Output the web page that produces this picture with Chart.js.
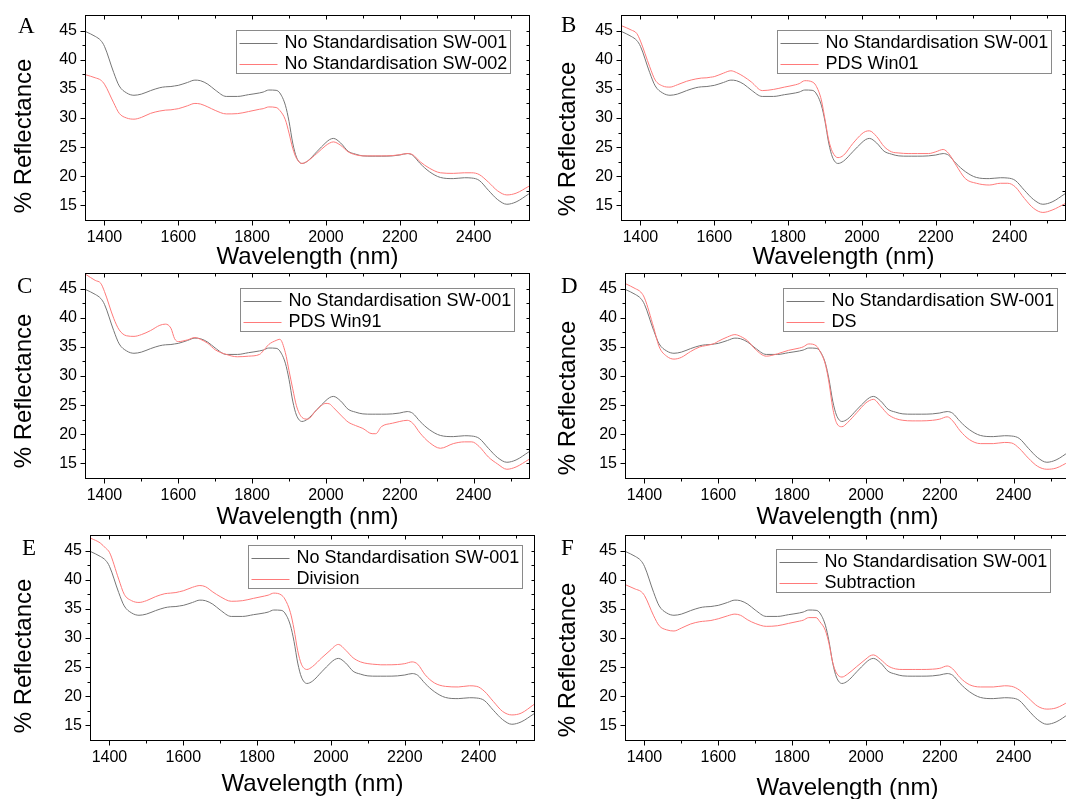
<!DOCTYPE html>
<html>
<head>
<meta charset="utf-8">
<script src="https://cdn.jsdelivr.net/npm/chart.js@4.4.1/dist/chart.umd.min.js"></script>
<style>
  html, body { margin: 0; padding: 0; background: #ffffff; }
  body { width: 1066px; height: 799px; position: relative; overflow: hidden; }
  canvas { position: absolute; }
</style>
</head>
<body>
<script>
// Wavelength grid (nm) shared by every spectrum
const wavelengths = [1350,1375,1390,1400,1425,1440,1460,1480,1500,1525,1550,1565,1580,1590,1600,1625,1645,1660,1680,1700,1730,1760,1790,1820,1830,1845,1865,1875,1890,1900,1910,1920,1935,1950,1975,2000,2010,2020,2040,2060,2080,2100,2125,2135,2150,2180,2200,2220,2235,2255,2280,2310,2345,2375,2395,2415,2440,2465,2490,2515,2550];

// % reflectance spectra
const sw001 = [44.8,44.0,43.3,42.3,37.8,35.5,34.3,33.9,34.1,34.7,35.2,35.35,35.4,35.5,35.6,36.1,36.5,36.4,35.8,34.8,33.7,33.7,34.0,34.3,34.45,34.8,34.75,34.3,32.2,29.4,25.7,23.3,22.2,22.6,24.2,25.8,26.3,26.5,25.7,24.3,23.8,23.5,23.45,23.45,23.45,23.5,23.65,23.9,23.6,22.2,20.8,19.8,19.6,19.75,19.7,19.3,17.6,16.0,15.2,15.6,17.0];
const sw002 = [37.4,36.9,36.5,35.8,32.6,30.8,30.0,29.8,30.1,30.8,31.2,31.35,31.4,31.5,31.6,32.1,32.5,32.4,31.9,31.3,30.7,30.75,31.1,31.5,31.6,31.9,31.8,31.3,29.7,27.4,24.8,23.1,22.2,22.6,23.9,25.3,25.7,25.9,25.3,24.2,23.7,23.5,23.5,23.5,23.5,23.55,23.7,23.9,23.7,22.5,21.4,20.6,20.5,20.6,20.6,20.3,19.0,17.5,16.8,17.1,18.3];
const pdsWin01 = [45.8,45.1,44.5,43.2,38.8,36.5,35.5,35.3,35.7,36.3,36.7,36.85,36.9,37.0,37.1,37.7,38.1,37.8,37.1,36.2,34.7,34.9,35.3,35.7,35.9,36.4,36.2,35.6,33.1,29.7,26.2,24.2,23.2,23.6,25.6,27.3,27.7,27.8,26.8,25.1,24.2,24.0,23.9,23.9,23.9,23.9,24.2,24.6,23.9,21.9,19.6,18.8,18.5,18.8,18.8,18.2,16.2,14.5,13.8,14.2,15.3];
const pdsWin91 = [47.4,46.4,45.9,44.5,39.9,37.9,36.9,36.8,37.1,37.8,38.7,38.9,38.2,36.4,35.9,36.2,36.6,36.3,35.6,34.5,33.7,33.3,33.4,33.7,34.3,35.4,36.1,36.3,34.0,30.9,27.8,24.9,22.9,22.6,24.2,25.3,25.2,24.6,23.3,22.1,21.5,21.0,20.1,20.1,21.3,21.9,22.2,22.4,21.9,20.2,18.6,17.6,18.4,18.7,18.7,17.9,16.1,14.9,14.0,14.4,15.7];
const ds = [45.8,45.0,44.4,43.4,38.3,35.0,33.4,32.9,33.2,34.2,35.0,35.2,35.4,35.6,35.96,36.7,37.1,36.8,36.0,34.6,33.4,33.8,34.4,34.8,35.0,35.5,35.2,34.3,32.0,28.8,24.5,22.0,21.3,22.0,23.7,25.4,25.8,26.0,24.8,23.4,22.7,22.4,22.3,22.3,22.3,22.4,22.6,23.0,22.3,20.6,19.1,18.4,18.4,18.6,18.5,17.6,15.9,14.5,14.0,14.2,15.3];
const division = [47.1,46.3,45.4,44.7,40.1,37.5,36.4,36.1,36.4,37.1,37.6,37.7,37.8,37.95,38.1,38.7,39.0,38.8,37.9,37.1,36.3,36.4,36.8,37.2,37.35,37.7,37.4,36.7,34.4,31.5,27.8,25.5,24.6,25.1,26.6,28.0,28.6,28.9,27.9,26.6,25.9,25.6,25.45,25.4,25.4,25.45,25.6,25.9,25.5,23.7,22.3,21.7,21.6,21.8,21.7,20.9,19.1,17.4,16.8,17.1,18.6];
const subtraction = [39.1,38.4,38.0,37.3,33.8,32.1,31.4,31.2,31.7,32.4,32.8,32.9,33.0,33.15,33.3,33.8,34.1,33.9,33.1,32.5,32.0,32.1,32.5,32.9,33.05,33.5,33.5,32.8,31.3,29.0,25.8,24.0,23.3,23.8,25.1,26.4,26.9,27.1,26.3,25.2,24.7,24.6,24.6,24.6,24.6,24.65,24.8,25.2,24.7,23.2,22.0,21.6,21.6,21.8,21.7,21.1,19.7,18.3,17.8,18.0,19.1];

// Series names, panel letters and axis text
const referenceLabel = 'No Standardisation SW-001';
const comparisonLabels = ['No Standardisation SW-002', 'PDS Win01', 'PDS Win91', 'DS', 'Division', 'Subtraction'];
const comparisonSeries = [sw002, pdsWin01, pdsWin91, ds, division, subtraction];
const panelLetters = ['A', 'B', 'C', 'D', 'E', 'F'];
const xAxisTitle = 'Wavelength (nm)';
const yAxisTitle = '% Reflectance';

// Axis ranges and ticks
const xRange = [1350, 2550];
const yRange = [12.5, 47.5];
const xMajorTicks = [1400, 1600, 1800, 2000, 2200, 2400];
const xMinorTicks = [1500, 1700, 1900, 2100, 2300, 2500];
const yMajorTicks = [15, 20, 25, 30, 35, 40, 45];
const yMinorTicks = [17.5, 22.5, 27.5, 32.5, 37.5, 42.5];

// Page placement of each plot area and of its annotations (offsets from the plot's top-left)
const PLOT_W = 443, PLOT_H = 204, Y_AXIS_W = 86, TOP_PAD = 16, X_AXIS_H = 60, RIGHT_PAD = 8;
const panelLayout = [
  { left: 86,  top: 16,  letter: [-68, 16.5], yTitle: [-62, 120], xTitleY: 241, legend: [150, 14] },
  { left: 622, top: 16,  letter: [-61, 16],   yTitle: [-54, 123], xTitleY: 241, legend: [155, 14] },
  { left: 86,  top: 274, letter: [-69, 19],   yTitle: [-62, 117], xTitleY: 243, legend: [154, 14] },
  { left: 626, top: 274, letter: [-65, 19],   yTitle: [-58, 124], xTitleY: 243, legend: [157, 14] },
  { left: 91,  top: 536, letter: [-69, 19],   yTitle: [-67, 120], xTitleY: 248, legend: [157, 9] },
  { left: 626, top: 536, letter: [-65, 19],   yTitle: [-58, 124], xTitleY: 252, legend: [150, 13] }
];

const SANS = '"Liberation Sans", Arial, Helvetica, sans-serif';
const SERIF = '"Liberation Serif", "Times New Roman", Times, serif';
const REF_COLOR = '#767676';
const CMP_COLOR = '#ff7a7a';

// Box frame with mirrored ticks, boxed legend, axis titles and panel letter
const panelDecor = {
  id: 'panelDecor',
  afterDraw(chart, args, opts) {
    const { ctx, chartArea: a, scales: { x, y } } = chart;
    const p = opts.layout;
    ctx.save();

    // frame
    ctx.strokeStyle = '#000';
    ctx.lineWidth = 1;
    const L = Math.round(a.left) - 0.5, R = Math.round(a.right) + 0.5;
    const T = Math.round(a.top) - 0.5, B = Math.round(a.bottom) + 0.5;
    ctx.strokeRect(L, T, R - L, B - T);

    const seg = (x1, y1, x2, y2) => { ctx.beginPath(); ctx.moveTo(x1, y1); ctx.lineTo(x2, y2); ctx.stroke(); };
    // x ticks: outward on the bottom, inward on the top
    xMajorTicks.forEach(v => { const px = Math.round(x.getPixelForValue(v)) + 0.5; seg(px, B, px, B + 5); seg(px, T, px, T + 4); });
    xMinorTicks.forEach(v => { const px = Math.round(x.getPixelForValue(v)) + 0.5; seg(px, B, px, B + 3); seg(px, T, px, T + 3); });
    // y ticks: outward on the left, inward on the right
    yMajorTicks.forEach(v => { const py = Math.round(y.getPixelForValue(v)) + 0.5; seg(L, py, L - 5, py); seg(R, py, R - 3, py); });
    yMinorTicks.forEach(v => { const py = Math.round(y.getPixelForValue(v)) + 0.5; seg(L, py, L - 3, py); seg(R, py, R - 3, py); });

    // legend box
    ctx.font = '18px ' + SANS;
    const sets = chart.data.datasets;
    const textW = Math.max(...sets.map(d => ctx.measureText(d.label).width));
    const bx = Math.round(a.left + p.legend[0]) + 0.5;
    const by = Math.round(a.top + p.legend[1]) + 0.5;
    ctx.strokeStyle = '#8a8a8a';
    ctx.strokeRect(bx, by, Math.round(48 + textW + 3), 43);
    ctx.textAlign = 'left';
    ctx.textBaseline = 'middle';
    sets.forEach((d, k) => {
      const cy = Math.round(by + 12 + k * 21) + 0.5;
      ctx.strokeStyle = d.borderColor;
      seg(bx + 3, cy, bx + 41, cy);
      ctx.fillStyle = '#000';
      ctx.fillText(d.label, bx + 48, cy);
    });

    // axis titles
    ctx.fillStyle = '#000';
    ctx.font = '24px ' + SANS;
    ctx.textAlign = 'center';
    ctx.textBaseline = 'middle';
    ctx.fillText(xAxisTitle, (a.left + a.right) / 2, a.top + p.xTitleY);
    ctx.save();
    ctx.translate(a.left + p.yTitle[0], a.top + p.yTitle[1]);
    ctx.rotate(-Math.PI / 2);
    ctx.fillText(yAxisTitle, 0, 0);
    ctx.restore();

    // panel letter
    ctx.font = '23px ' + SERIF;
    ctx.textAlign = 'left';
    ctx.textBaseline = 'alphabetic';
    ctx.fillText(opts.letter, a.left + p.letter[0], a.top + p.letter[1]);

    ctx.restore();
  }
};

const toPoints = values => wavelengths.map((w, k) => ({ x: w, y: values[k] }));

panelLayout.forEach((p, i) => {
  const canvas = document.createElement('canvas');
  const cw = Y_AXIS_W + PLOT_W + RIGHT_PAD;
  const ch = TOP_PAD + PLOT_H + X_AXIS_H;
  canvas.width = cw;
  canvas.height = ch;
  canvas.style.width = cw + 'px';
  canvas.style.height = ch + 'px';
  canvas.style.left = (p.left - Y_AXIS_W) + 'px';
  canvas.style.top = (p.top - TOP_PAD) + 'px';
  document.body.appendChild(canvas);

  new Chart(canvas, {
    type: 'line',
    data: {
      datasets: [
        { label: referenceLabel, data: toPoints(sw001), borderColor: REF_COLOR, order: 1 },
        { label: comparisonLabels[i], data: toPoints(comparisonSeries[i]), borderColor: CMP_COLOR, order: 0 }
      ]
    },
    options: {
      responsive: false,
      animation: false,
      devicePixelRatio: 1,
      layout: { padding: { left: 0, top: TOP_PAD, right: RIGHT_PAD, bottom: 0 } },
      elements: {
        point: { radius: 0 },
        line: { borderWidth: 1, cubicInterpolationMode: 'monotone', fill: false }
      },
      plugins: {
        legend: { display: false },
        tooltip: { enabled: false },
        panelDecor: { layout: p, letter: panelLetters[i] }
      },
      scales: {
        x: {
          type: 'linear',
          min: xRange[0],
          max: xRange[1],
          afterBuildTicks: s => { s.ticks = xMajorTicks.map(v => ({ value: v })); },
          afterFit: s => { s.height = X_AXIS_H; },
          grid: { display: false, drawTicks: false },
          border: { display: false },
          ticks: { color: '#000', padding: 8, maxRotation: 0, autoSkip: false, font: { family: SANS, size: 16 }, callback: v => String(v) }
        },
        y: {
          type: 'linear',
          min: yRange[0],
          max: yRange[1],
          afterBuildTicks: s => { s.ticks = yMajorTicks.map(v => ({ value: v })); },
          afterFit: s => { s.width = Y_AXIS_W; },
          grid: { display: false, drawTicks: false },
          border: { display: false },
          ticks: { color: '#000', padding: 9, font: { family: SANS, size: 16, lineHeight: 0.8 }, callback: v => String(v) }
        }
      }
    },
    plugins: [panelDecor]
  });
});
</script>
</body>
</html>
